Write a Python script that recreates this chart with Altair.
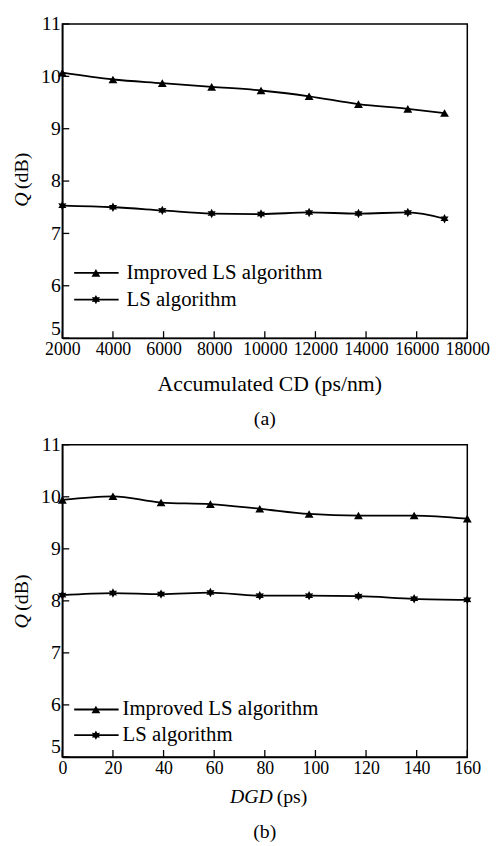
import altair as alt
import pandas as pd

FONT = "Liberation Serif"

# Panel (a): Q vs accumulated CD
cd_x = [2000, 4000, 5950, 7900, 9850, 11750, 13700, 15650, 17100]
cd_improved = [10.07, 9.94, 9.87, 9.80, 9.73, 9.62, 9.47, 9.38, 9.30]
cd_ls = [7.53, 7.50, 7.44, 7.38, 7.37, 7.40, 7.38, 7.40, 7.28]

# Panel (b): Q vs DGD
dgd_x = [0, 20, 39, 58.5, 78, 97.5, 117, 139, 160]
dgd_improved = [9.94, 10.01, 9.89, 9.86, 9.77, 9.67, 9.64, 9.64, 9.58]
dgd_ls = [8.11, 8.15, 8.13, 8.16, 8.10, 8.10, 8.09, 8.04, 8.02]

series_names = ["Improved LS algorithm", "LS algorithm"]
y_ticks = [5, 6, 7, 8, 9, 10, 11]
cd_ticks = [2000, 4000, 6000, 8000, 10000, 12000, 14000, 16000, 18000]
dgd_ticks = [0, 20, 40, 60, 80, 100, 120, 140, 160]

STAR = ("M0,-1 L0.275,-0.476 L0.866,-0.5 L0.55,0 L0.866,0.5 L0.275,0.476 "
        "L0,1 L-0.275,0.476 L-0.866,0.5 L-0.55,0 L-0.866,-0.5 L-0.275,-0.476 Z")

W = 410


def panel(xs, imp, ls, xticks, xdom, H, xlabel_parts, caption, leg_y, leg_text_x,
          ytitle_cy, xt_dy, cap_dy):
    df = pd.DataFrame({
        "x": xs + xs,
        "y": imp + ls,
        "s": [series_names[0]] * len(xs) + [series_names[1]] * len(ls),
    })
    xsc = alt.Scale(domain=xdom, nice=False, zero=False)
    ysc = alt.Scale(domain=[5, 11], nice=False, zero=False)
    xax = alt.Axis(values=xticks, grid=False, tickSize=0, labelPadding=3,
                   labelFont=FONT, labelFontSize=18, labelColor="black",
                   domainColor="black", domainWidth=1.5, labelFlush=False,
                   format="d", title=None)
    yax = alt.Axis(values=y_ticks, grid=False, tickSize=0, labelPadding=2,
                   labelFont=FONT, labelFontSize=20, labelColor="black",
                   domainColor="black", domainWidth=1.5, title=None,
                   labelBaseline={"condition": {"test": "datum.value == 5",
                                                "value": "bottom"},
                                  "value": "middle"})
    base = alt.Chart(df)
    line = base.mark_line(color="black", strokeWidth=1.8, interpolate="monotone").encode(
        x=alt.X("x:Q", scale=xsc, axis=xax),
        y=alt.Y("y:Q", scale=ysc, axis=yax),
        detail="s:N",
    )
    pts = base.mark_point(filled=True, color="black", opacity=1).encode(
        x=alt.X("x:Q", scale=xsc),
        y=alt.Y("y:Q", scale=ysc),
        shape=alt.Shape("s:N", scale=alt.Scale(domain=series_names,
                                               range=["triangle-up", STAR]), legend=None),
        size=alt.Size("s:N", scale=alt.Scale(domain=series_names, range=[80, 90]), legend=None),
    )
    yt = alt.Chart(pd.DataFrame({"t": y_ticks})).mark_rule(color="black", strokeWidth=1.3).encode(
        y=alt.Y("t:Q", scale=ysc), x=alt.value(0), x2=alt.value(7))
    xt = alt.Chart(pd.DataFrame({"t": xticks})).mark_rule(color="black", strokeWidth=1.3).encode(
        x=alt.X("t:Q", scale=xsc), y=alt.value(H), y2=alt.value(H - 7))

    one = pd.DataFrame({"a": [0]})
    layers = [line, pts, yt, xt]
    # legend
    for i, name in enumerate(series_names):
        yy = leg_y[i]
        layers.append(alt.Chart(one).mark_rule(color="black", strokeWidth=1.8).encode(
            x=alt.value(12), x2=alt.value(57), y=alt.value(yy)))
        layers.append(alt.Chart(one).mark_point(
            filled=True, color="black", opacity=1,
            shape="triangle-up" if i == 0 else STAR, size=80 if i == 0 else 90).encode(
            x=alt.value(34), y=alt.value(yy)))
        layers.append(alt.Chart(one).mark_text(
            font=FONT, fontSize=21, color="black", align="left", baseline="middle").encode(
            x=alt.value(leg_text_x), y=alt.value(yy), text=alt.value(name)))
    # y title: italic Q + (dB), rotated
    layers.append(alt.Chart(one).mark_text(
        font=FONT, fontSize=20, fontStyle="italic", color="black", angle=270,
        align="left", baseline="middle").encode(
        x=alt.value(-41), y=alt.value(ytitle_cy + 28), text=alt.value("Q")))
    layers.append(alt.Chart(one).mark_text(
        font=FONT, fontSize=20, color="black", angle=270,
        align="left", baseline="middle").encode(
        x=alt.value(-41), y=alt.value(ytitle_cy + 10), text=alt.value("(dB)")))
    # x title
    it, rest, cx = xlabel_parts
    if it:
        layers.append(alt.Chart(one).mark_text(
            font=FONT, fontSize=20, fontStyle="italic", color="black",
            align="right", baseline="middle").encode(
            x=alt.value(cx), y=alt.value(H + xt_dy), text=alt.value(it)))
        layers.append(alt.Chart(one).mark_text(
            font=FONT, fontSize=20, color="black",
            align="left", baseline="middle").encode(
            x=alt.value(cx + 4), y=alt.value(H + xt_dy), text=alt.value(rest)))
    else:
        layers.append(alt.Chart(one).mark_text(
            font=FONT, fontSize=22, color="black",
            align="center", baseline="middle").encode(
            x=alt.value(cx), y=alt.value(H + xt_dy), text=alt.value(rest)))
    layers.append(alt.Chart(one).mark_text(
        font=FONT, fontSize=20, color="black", align="center", baseline="middle").encode(
        x=alt.value(205), y=alt.value(H + cap_dy), text=alt.value(caption)))
    return alt.layer(*layers).properties(width=W, height=H)


pa = panel(cd_x, cd_improved, cd_ls, cd_ticks, [2000, 18000], 318,
           (None, "Accumulated CD (ps/nm)", 210), "(a)", [252, 279], 65, 157, 47, 82)
pb = panel(dgd_x, dgd_improved, dgd_ls, dgd_ticks, [0, 160], 316,
           ("DGD", "(ps)", 213), "(b)", [268, 294], 61, 158, 41, 76)

chart = alt.vconcat(pa, pb, spacing=4).properties(
    padding={"left": 3, "top": 0, "right": 0, "bottom": 0}
).configure_view(stroke="black", strokeWidth=1.5).configure_concat(spacing=4)

chart.save("out.html", embed_options={"renderer": "svg", "actions": False})
